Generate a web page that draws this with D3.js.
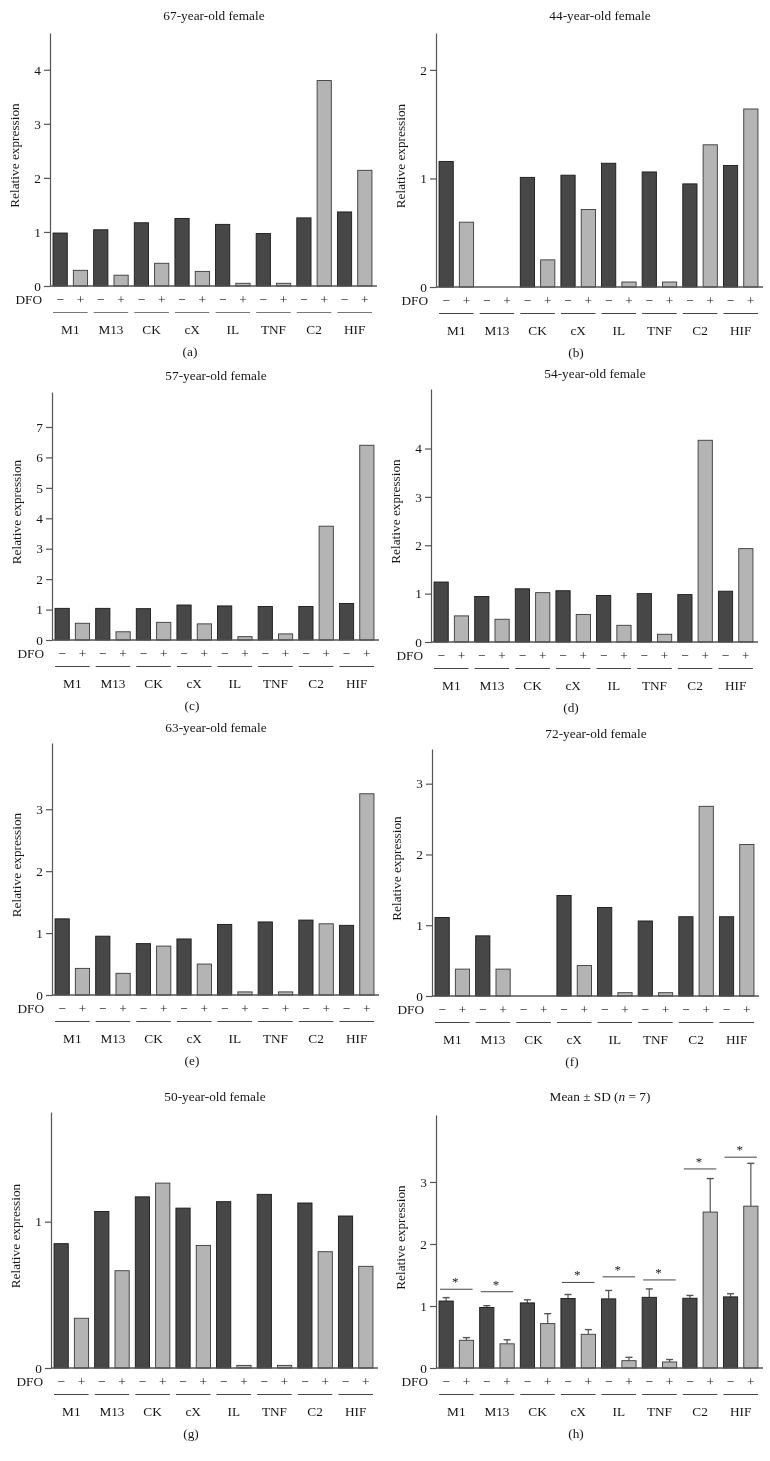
<!DOCTYPE html>
<html><head><meta charset="utf-8">
<script src="https://cdn.jsdelivr.net/npm/d3@7"></script>
<style>
body{margin:0;background:#fff;}
svg{display:block;will-change:transform;}
text{font-family:"Liberation Serif","DejaVu Serif",serif;fill:#151515;}
</style></head>
<body>
<svg id="fig" width="770" height="1461"></svg>
<script>
const categories = ["M1","M13","CK","cX","IL","TNF","C2","HIF"];
const dfoSigns = ["\u2212","+"];

const titles = ["67-year-old female","44-year-old female","57-year-old female","54-year-old female",
                "63-year-old female","72-year-old female","50-year-old female","Mean \u00b1 SD (n = 7)"];
const panelLetters = ["(a)","(b)","(c)","(d)","(e)","(f)","(g)","(h)"];
const yMax = [4.68, 2.34, 8.15, 5.23, 4.07, 3.49, 1.75, 4.08];
const yTicks = [[0,1,2,3,4],[0,1,2],[0,1,2,3,4,5,6,7],[0,1,2,3,4],[0,1,2,3],[0,1,2,3],[0,1],[0,1,2,3]];

const darkA = [0.98,1.04,1.17,1.25,1.14,0.97,1.26,1.37];
const lightA = [0.29,0.20,0.42,0.27,0.05,0.05,3.80,2.14];
const darkB = [1.157,0,1.01,1.03,1.14,1.06,0.95,1.12];
const lightB = [0.597,0,0.25,0.714,0.046,0.046,1.31,1.64];
const darkC = [1.04,1.04,1.03,1.15,1.12,1.10,1.10,1.20];
const lightC = [0.55,0.27,0.58,0.53,0.11,0.20,3.74,6.40];
const darkD = [1.24,0.94,1.10,1.06,0.96,1.00,0.98,1.05];
const lightD = [0.54,0.47,1.02,0.57,0.345,0.16,4.17,1.93];
const darkE = [1.23,0.95,0.83,0.905,1.14,1.18,1.21,1.125];
const lightE = [0.43,0.35,0.79,0.50,0.05,0.05,1.15,3.25];
const darkF = [1.11,0.85,0,1.42,1.25,1.06,1.12,1.12];
const lightF = [0.38,0.38,0,0.43,0.047,0.047,2.68,2.14];
const darkG = [0.85,1.07,1.17,1.093,1.137,1.187,1.128,1.039];
const lightG = [0.34,0.665,1.264,0.838,0.018,0.018,0.795,0.695];
const darkH = [1.08,0.975,1.05,1.12,1.115,1.14,1.125,1.147];
const darkHsd = [0.055,0.03,0.05,0.065,0.135,0.135,0.045,0.05];
const lightH = [0.447,0.39,0.716,0.544,0.118,0.097,2.515,2.61];
const lightHsd = [0.043,0.065,0.16,0.075,0.054,0.04,0.54,0.69];
const sigCats = ["M1","M13","cX","IL","TNF","C2","HIF"];
const sigLevels = [1.27,1.23,1.38,1.47,1.42,3.21,3.40];

const darkSets = [darkA,darkB,darkC,darkD,darkE,darkF,darkG,darkH];
const lightSets = [lightA,lightB,lightC,lightD,lightE,lightF,lightG,lightH];

// layout: axis x, baseline y, axis top y, title y
const layout = [
  {x0:50, base:286, top:33, ty:15},
  {x0:436, base:287, top:33, ty:15},
  {x0:52, base:640, top:392, ty:375},
  {x0:431, base:642, top:389, ty:373},
  {x0:52, base:995, top:743, ty:727},
  {x0:432, base:996, top:749, ty:733},
  {x0:51, base:1368, top:1112, ty:1096},
  {x0:436, base:1368, top:1115, ty:1096}
];

const svg = d3.select("#fig");
const FS = 13.3;

layout.forEach((L, pi) => {
  const g = svg.append("g");
  const plotW = 325;
  const x = d3.scaleBand().domain(categories).range([L.x0, L.x0 + plotW]);
  const xi = d3.scaleBand().domain(dfoSigns).range([0, x.bandwidth()]).paddingInner(0.3).paddingOuter(0.15);
  const y = d3.scaleLinear().domain([0, yMax[pi]]).range([L.base, L.top]);

  const rows = categories.map((c, i) => ({c, dark: darkSets[pi][i], light: lightSets[pi][i],
     dsd: pi === 7 ? darkHsd[i] : 0, lsd: pi === 7 ? lightHsd[i] : 0}));

  // title
  let title = g.append("text").attr("x", L.x0 + 164).attr("y", L.ty)
    .attr("text-anchor","middle").attr("dominant-baseline","central").attr("font-size", FS);
  if (pi === 7) {
    title.append("tspan").text("Mean \u00b1 SD (");
    title.append("tspan").attr("font-style","italic").text("n");
    title.append("tspan").text(" = 7)");
  } else title.text(titles[pi]);

  // error bars (h)
  if (pi === 7) {
    const eb = [];
    rows.forEach(r => {
      eb.push({cx: x(r.c) + xi(dfoSigns[0]) + xi.bandwidth()/2, v: r.dark, sd: r.dsd});
      eb.push({cx: x(r.c) + xi(dfoSigns[1]) + xi.bandwidth()/2, v: r.light, sd: r.lsd});
    });
    g.selectAll(".eb").data(eb).join("line")
      .attr("x1", d => d.cx).attr("x2", d => d.cx)
      .attr("y1", d => y(d.v)).attr("y2", d => y(d.v + d.sd))
      .attr("stroke", "#555").attr("stroke-width", 1.2);
    g.selectAll(".cap").data(eb).join("line")
      .attr("x1", d => d.cx - 3.5).attr("x2", d => d.cx + 3.5)
      .attr("y1", d => y(d.v + d.sd)).attr("y2", d => y(d.v + d.sd))
      .attr("stroke", "#555").attr("stroke-width", 1.4);
  }

  // bars
  g.selectAll(".dark").data(rows.filter(r => r.dark > 0)).join("rect")
    .attr("x", d => x(d.c) + xi(dfoSigns[0]))
    .attr("width", xi.bandwidth())
    .attr("y", d => y(d.dark)).attr("height", d => y(0) - y(d.dark))
    .attr("fill", "#474747").attr("stroke", "#1a1a1a").attr("stroke-width", 0.9);
  g.selectAll(".light").data(rows.filter(r => r.light > 0)).join("rect")
    .attr("x", d => x(d.c) + xi(dfoSigns[1]))
    .attr("width", xi.bandwidth())
    .attr("y", d => y(d.light)).attr("height", d => y(0) - y(d.light))
    .attr("fill", "#b4b4b4").attr("stroke", "#3a3a3a").attr("stroke-width", 0.9);

  // significance
  if (pi === 7) {
    const sig = sigCats.map((c, i) => ({c, v: sigLevels[i]}));
    g.selectAll(".sig").data(sig).join("line")
      .attr("x1", d => x(d.c) + xi(dfoSigns[0]) + 1)
      .attr("x2", d => x(d.c) + xi(dfoSigns[1]) + xi.bandwidth() - 1)
      .attr("y1", d => y(d.v)).attr("y2", d => y(d.v))
      .attr("stroke", "#444").attr("stroke-width", 1);
    g.selectAll(".star").data(sig).join("text")
      .attr("x", d => x(d.c) + x.bandwidth()/2 - 1)
      .attr("y", d => y(d.v) - 3)
      .attr("text-anchor","middle").attr("font-size", 13).text("*");
  }

  // y axis
  const ya = d3.axisLeft(y).tickValues(yTicks[pi]).tickSize(6).tickSizeOuter(0).tickFormat(d3.format("d"));
  const ag = g.append("g").attr("transform", `translate(${L.x0},0)`).call(ya);
  ag.select(".domain").attr("stroke", "#555").attr("stroke-width", 1.2);
  ag.selectAll(".tick line").attr("stroke", "#555").attr("stroke-width", 1.2);
  ag.selectAll(".tick text").attr("font-size", FS).attr("fill", "#151515")
    .attr("font-family", '"Liberation Serif",serif').attr("x", -9);
  // x baseline
  g.append("line").attr("x1", L.x0).attr("x2", L.x0 + plotW + 2)
    .attr("y1", y(0)).attr("y2", y(0)).attr("stroke", "#555").attr("stroke-width", 1.3);

  // y label
  g.append("text").attr("transform", `translate(${L.x0 - 36},${(L.base + L.top)/2 - 4}) rotate(-90)`)
    .attr("text-anchor","middle").attr("dominant-baseline","central").attr("font-size", FS)
    .text("Relative expression");

  // DFO row
  g.append("text").attr("x", L.x0 - 8).attr("y", L.base + 13).attr("text-anchor","end")
    .attr("dominant-baseline","central").attr("font-size", FS).text("DFO");
  const signs = [];
  categories.forEach(c => dfoSigns.forEach(s => signs.push({c, s})));
  g.selectAll(".sign").data(signs).join("text")
    .attr("x", d => x(d.c) + xi(d.s) + xi.bandwidth()/2)
    .attr("y", L.base + 13).attr("text-anchor","middle").attr("dominant-baseline","central")
    .attr("font-size", FS).text(d => d.s);

  // group underlines
  g.selectAll(".ul").data(categories).join("line")
    .attr("x1", d => x(d) + xi(dfoSigns[0]))
    .attr("x2", d => x(d) + xi(dfoSigns[1]) + xi.bandwidth())
    .attr("y1", L.base + 26.5).attr("y2", L.base + 26.5)
    .attr("stroke", pi === 0 ? "#777" : "#444").attr("stroke-width", 1.1);

  // category labels
  g.selectAll(".cat").data(categories).join("text")
    .attr("x", d => x(d) + x.bandwidth()/2)
    .attr("y", L.base + 43).attr("text-anchor","middle").attr("dominant-baseline","central")
    .attr("font-size", FS).text(d => d);

  // panel letter
  g.append("text").attr("x", L.x0 + 140).attr("y", L.base + 65)
    .attr("text-anchor","middle").attr("dominant-baseline","central")
    .attr("font-size", FS).text(panelLetters[pi]);
});
</script>
</body></html>
